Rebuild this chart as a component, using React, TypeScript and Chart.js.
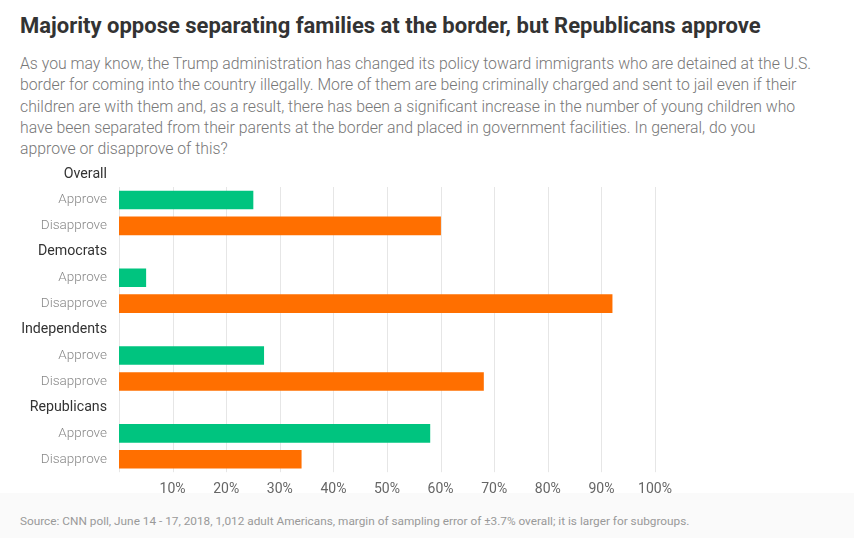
import React, { useEffect, useRef } from "react";
import { Chart, registerables } from "chart.js";

Chart.register(...registerables);

const groups = ["Overall", "Democrats", "Independents", "Republicans"];
const responses = ["Approve", "Disapprove"];
const approveValues = [25, 5, 27, 58];
const disapproveValues = [60, 92, 68, 34];
const xTicks = [10, 20, 30, 40, 50, 60, 70, 80, 90, 100];

const GREEN = "#00c47f";
const ORANGE = "#ff6f00";

const labels: string[] = [];
const values: (number | null)[] = [];
const colors: string[] = [];
const isHeader: boolean[] = [];
groups.forEach((g, i) => {
  labels.push(g);
  values.push(null);
  colors.push("rgba(0,0,0,0)");
  isHeader.push(true);
  labels.push(responses[0]);
  values.push(approveValues[i]);
  colors.push(GREEN);
  isHeader.push(false);
  labels.push(responses[1]);
  values.push(disapproveValues[i]);
  colors.push(ORANGE);
  isHeader.push(false);
});

const FONT = "Roboto, 'Noto Sans', sans-serif";

const gridPlugin = {
  id: "customGrid",
  beforeDatasetsDraw(chart: any) {
    const { ctx, chartArea, scales } = chart;
    const x = scales.x;
    const y = scales.y;
    const half = (y.getPixelForValue(1) - y.getPixelForValue(0)) / 2;
    const top = y.getPixelForValue(1) - half;
    ctx.save();
    ctx.strokeStyle = "#e6e6e6";
    ctx.lineWidth = 1;
    [0, ...xTicks].forEach((t) => {
      const px = Math.round(x.getPixelForValue(t)) + 0.5;
      ctx.beginPath();
      ctx.moveTo(px, top);
      ctx.lineTo(px, chartArea.bottom);
      ctx.stroke();
    });
    ctx.restore();
  },
};

function BarChart() {
  const ref = useRef<HTMLCanvasElement>(null);
  useEffect(() => {
    if (!ref.current) return;
    const chart = new Chart(ref.current, {
      type: "bar",
      data: {
        labels,
        datasets: [
          {
            data: values,
            backgroundColor: colors,
            borderWidth: 0,
            barThickness: 18,
          },
        ],
      },
      options: {
        indexAxis: "y",
        animation: false,
        responsive: false,
        maintainAspectRatio: false,
        layout: { padding: { top: 9, right: 199, left: 0, bottom: 0 } },
        plugins: {
          legend: { display: false },
          tooltip: { enabled: false },
        },
        scales: {
          x: {
            min: 0,
            max: 100,
            afterBuildTicks: (scale: any) => {
              scale.ticks = xTicks.map((v) => ({ value: v }));
            },
            grid: { display: false },
            border: { display: false },
            ticks: {
              padding: 1,
              color: "#666",
              font: { family: FONT, size: 14 },
              callback: (v: any) => v + "%",
            },
          },
          y: {
            grid: { display: false },
            border: { display: false },
            afterFit: (scale: any) => {
              scale.width = 119;
            },
            ticks: {
              padding: 4,
              autoSkip: false,
              color: (ctx: any) => (isHeader[ctx.index] ? "#333" : "#888"),
              font: (ctx: any) =>
                isHeader[ctx.index]
                  ? { family: FONT, size: 14.2, weight: "normal" }
                  : { family: FONT, size: 13.5, weight: "300" },
            },
          },
        },
      },
      plugins: [gridPlugin],
    });
    return () => chart.destroy();
  }, []);
  return (
    <canvas
      ref={ref}
      width={854}
      height={350}
      style={{ position: "absolute", left: 0, top: 149, width: 854, height: 350 }}
    />
  );
}

export default function App() {
  useEffect(() => {
    document.body.style.margin = "0";
  }, []);
  return (
    <div
      style={{
        position: "relative",
        width: 854,
        height: 538,
        background: "#fff",
        overflow: "hidden",
        fontFamily: FONT,
      }}
    >
      <div
        style={{
          position: "absolute",
          left: 0,
          top: 493,
          width: 854,
          height: 45,
          background: "#fafafa",
        }}
      />
      <div
        style={{
          position: "absolute",
          left: 20,
          top: 13,
          fontSize: 22,
          fontWeight: 700,
          color: "#333",
          whiteSpace: "nowrap",
        }}
      >
        Majority oppose separating families at the border, but Republicans approve
      </div>
      <div
        style={{
          position: "absolute",
          left: 20,
          top: 53,
          width: 834,
          fontSize: 15.8,
          fontWeight: 300,
          lineHeight: "21.3px",
          color: "#777",
          whiteSpace: "nowrap",
        }}
      >
        As you may know, the Trump administration has changed its policy toward immigrants who are detained at the U.S.
        <br />
        border for coming into the country illegally. More of them are being criminally charged and sent to jail even if their
        <br />
        children are with them and, as a result, there has been a significant increase in the number of young children who
        <br />
        have been separated from their parents at the border and placed in government facilities. In general, do you
        <br />
        approve or disapprove of this?
      </div>
      <BarChart />
      <div
        style={{
          position: "absolute",
          left: 20,
          top: 514,
          fontSize: 11.8,
          color: "#999",
          whiteSpace: "nowrap",
        }}
      >
        Source: CNN poll, June 14 - 17, 2018, 1,012 adult Americans, margin of sampling error of ±3.7% overall; it is larger for subgroups.
      </div>
    </div>
  );
}
